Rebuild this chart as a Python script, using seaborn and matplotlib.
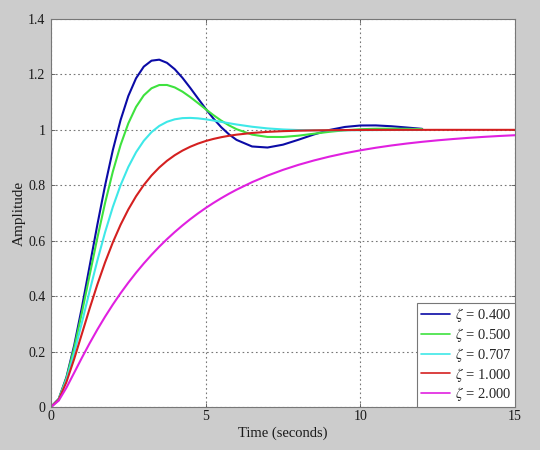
import numpy as np
import pandas as pd
import matplotlib
matplotlib.use("Agg")
import matplotlib.pyplot as plt
import seaborn as sns

# time samples (seconds)
t_fine = [0, 0.25, 0.5, 0.75, 1, 1.25, 1.5, 1.75, 2, 2.25, 2.5, 2.75, 3, 3.25, 3.5, 3.75,
          4, 4.25, 4.5, 4.75, 5, 5.25, 5.5, 5.75, 6]
t_tail12 = [6.5, 7, 7.5, 8, 8.5, 9, 9.5, 10, 10.5, 11, 11.5, 12]
t_tail15 = [6.5, 7, 7.5, 8, 8.5, 9, 9.5, 10, 10.5, 11, 11.5, 12, 12.5, 13, 13.5, 14, 14.5, 15]

zeta_labels = [r"$\zeta$ = 0.400", r"$\zeta$ = 0.500", r"$\zeta$ = 0.707",
               r"$\zeta$ = 1.000", r"$\zeta$ = 2.000"]

y_z040 = [0, 0.0291, 0.1077, 0.2223, 0.3599, 0.5087, 0.6582, 0.7998, 0.9271, 1.0354, 1.1221,
          1.1861, 1.2281, 1.2496, 1.2532, 1.2418, 1.2189, 1.1878, 1.1517, 1.1137, 1.0761,
          1.0410, 1.0100, 0.9841, 0.9637,
          0.9400, 0.9362, 0.9465, 0.9643, 0.9833, 0.9995, 1.0104, 1.0157, 1.0160, 1.0130,
          1.0084, 1.0036]
y_z050 = [0, 0.0287, 0.1044, 0.2127, 0.3403, 0.4760, 0.6105, 0.7367, 0.8494, 0.9455, 1.0234,
          1.0827, 1.1244, 1.1500, 1.1617, 1.1619, 1.1531, 1.1379, 1.1184, 1.0968, 1.0746,
          1.0532, 1.0336, 1.0165, 1.0023,
          0.9828, 0.9744, 0.9742, 0.9790, 0.9860, 0.9929, 0.9985, 1.0022, 1.0040, 1.0043,
          1.0037, 1.0026]
y_z0707 = [0, 0.0277, 0.0981, 0.1948, 0.3048, 0.4185, 0.5288, 0.6309, 0.7219, 0.8004, 0.8660,
           0.9191, 0.9605, 0.9918, 1.0141, 1.0290, 1.0380, 1.0423, 1.0431, 1.0415, 1.0381,
           1.0337, 1.0289, 1.0240, 1.0193,
           1.0112, 1.0052, 1.0014, 0.9992, 0.9983, 0.9981, 0.9984, 0.9988, 0.9992, 0.9996,
           0.9998, 1.0000]
y_z100 = [0, 0.0265, 0.0902, 0.1734, 0.2642, 0.3554, 0.4422, 0.5221, 0.5940, 0.6575, 0.7127,
          0.7603, 0.8009, 0.8352, 0.8641, 0.8883, 0.9084, 0.9251, 0.9389, 0.9503, 0.9596,
          0.9672, 0.9734, 0.9785, 0.9826,
          0.9887, 0.9927, 0.9953, 0.9970, 0.9981, 0.9988, 0.9992, 0.9995, 0.9997, 0.9998,
          0.9999, 0.9999, 1.0000, 1.0000, 1.0000, 1.0000, 1.0000, 1.0000]
y_z200 = [0, 0.0229, 0.0697, 0.1235, 0.1777, 0.2300, 0.2795, 0.3260, 0.3696, 0.4105, 0.4486,
          0.4844, 0.5178, 0.5490, 0.5783, 0.6056, 0.6311, 0.6550, 0.6774, 0.6983, 0.7178,
          0.7361, 0.7532, 0.7692, 0.7841,
          0.8112, 0.8349, 0.8556, 0.8737, 0.8895, 0.9034, 0.9155, 0.9261, 0.9354, 0.9435,
          0.9506, 0.9568, 0.9622, 0.9669, 0.9711, 0.9747, 0.9779, 0.9806]

x_ticks = [0, 5, 10, 15]
y_ticks = [0, 0.2, 0.4, 0.6, 0.8, 1.0, 1.2, 1.4]
y_tick_labels = ["0", "0.2", "0.4", "0.6", "0.8", "1", "1.2", "1.4"]

colors = ["#0b0ba6", "#3ee23e", "#3ee8e8", "#d42020", "#e020e0"]

# build long-form table
series = [
    (zeta_labels[0], t_fine + t_tail12, y_z040),
    (zeta_labels[1], t_fine + t_tail12, y_z050),
    (zeta_labels[2], t_fine + t_tail12, y_z0707),
    (zeta_labels[3], t_fine + t_tail15, y_z100),
    (zeta_labels[4], t_fine + t_tail15, y_z200),
]
rows = []
for lab, ts, ys in series:
    for tt, yy in zip(ts, ys):
        rows.append({"t": tt, "y": yy, "zeta": lab})
df = pd.DataFrame(rows)

sns.set_style("white")
plt.rcParams["font.family"] = ["Liberation Serif", "DejaVu Serif"]
plt.rcParams["mathtext.fontset"] = "stix"

fig = plt.figure(figsize=(5.4, 4.5), dpi=100, facecolor="#cccccc")
ax = fig.add_axes([0.0944, 0.0956, 0.8593, 0.8622])
ax.set_facecolor("white")

sns.lineplot(data=df, x="t", y="y", hue="zeta", hue_order=zeta_labels,
             palette=colors, estimator=None, sort=False, linewidth=1.5, ax=ax)

ax.set_xlim(0, 15)
ax.set_ylim(0, 1.4)
ax.set_xticks(x_ticks)
ax.set_xticklabels([str(v) for v in x_ticks])
ax.set_yticks(y_ticks)
ax.set_yticklabels(y_tick_labels)
ax.tick_params(direction="in", length=3, width=0.6, colors="#555555",
               labelcolor="#1a1a1a", labelsize=10, top=True, right=True,
               left=True, bottom=True)
ax.tick_params(axis="y", pad=4)
ax.tick_params(axis="x", pad=2.5)
ax.grid(True, linestyle=(0, (1.5, 2.5)), color="#777777", linewidth=0.8)
for s in ax.spines.values():
    s.set_color("#777777")
    s.set_linewidth(0.8)

ax.set_xlabel("Time (seconds)", fontsize=10.5, color="#1a1a1a", labelpad=2)
ax.set_ylabel("Amplitude", fontsize=11, color="#1a1a1a", labelpad=1.5)

leg = ax.legend(loc="lower right", fontsize=10.5, frameon=True, fancybox=False,
                framealpha=1, edgecolor="#777777", borderaxespad=0,
                handlelength=2.0, handletextpad=0.3, labelspacing=0.12,
                borderpad=0.25)
leg.get_frame().set_linewidth(0.8)
for line in leg.get_lines():
    line.set_linewidth(1.2)

fig.savefig("out.png", dpi=100, facecolor=fig.get_facecolor())
